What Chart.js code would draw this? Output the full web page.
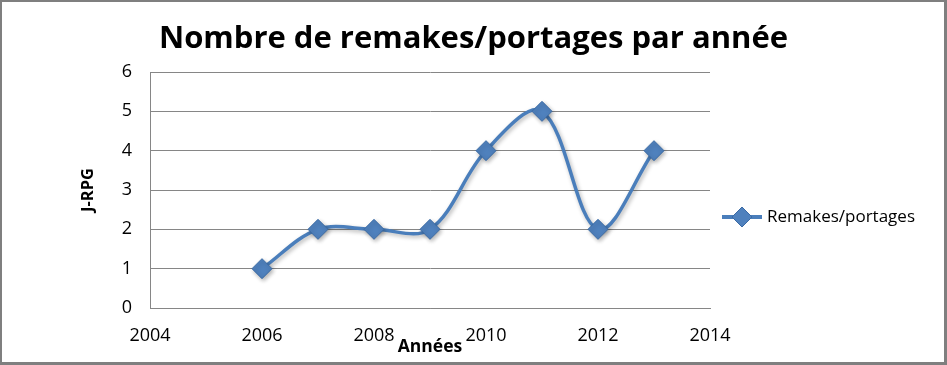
<!DOCTYPE html>
<html>
<head>
<meta charset="utf-8">
<script src="https://cdn.jsdelivr.net/npm/chart.js@4"></script>
<style>
  body { margin: 0; background: #fff; }
  .wrap { position: relative; width: 947px; height: 365px; }
  .frame {
    position: absolute; left: 0; top: 0; right: 0; bottom: 0;
    border-top: 2px solid #7f7f7f; border-left: 2px solid #7f7f7f;
    border-right: 3px solid #7f7f7f; border-bottom: 3px solid #7f7f7f;
    pointer-events: none;
  }
</style>
</head>
<body>
<div class="wrap">
  <canvas id="chart" width="947" height="365"></canvas>
  <div class="frame"></div>
</div>
<script>
const years = [2006, 2007, 2008, 2009, 2010, 2011, 2012, 2013];
const remakes = [1, 2, 2, 2, 4, 5, 2, 4];
const xTicks = [2004, 2006, 2008, 2010, 2012, 2014];
const yTicks = [0, 1, 2, 3, 4, 5, 6];
const seriesLabel = 'Remakes/portages';

const lineColor = '#4a7ebb';
const markerFill = '#4f81bd';
const gridColor = '#868686';

// little drop shadow under the line and markers, like the Excel original
const shadowPlugin = {
  id: 'shadow',
  beforeDatasetsDraw(chart) {
    const ctx = chart.ctx;
    ctx.save();
    ctx.shadowColor = 'rgba(0,0,0,0.3)';
    ctx.shadowBlur = 4;
    ctx.shadowOffsetX = 1.5;
    ctx.shadowOffsetY = 2;
  },
  afterDatasetsDraw(chart) {
    chart.ctx.restore();
  }
};

// legend on the right: line + diamond + label
const sideLegend = {
  id: 'sideLegend',
  afterDraw(chart) {
    const ctx = chart.ctx;
    const ds = chart.data.datasets[0];
    const y = 217;
    ctx.save();
    ctx.strokeStyle = lineColor;
    ctx.lineWidth = 4;
    ctx.beginPath();
    ctx.moveTo(722, y);
    ctx.lineTo(762, y);
    ctx.stroke();
    ctx.fillStyle = markerFill;
    ctx.strokeStyle = '#3a6aa5';
    ctx.lineWidth = 1;
    Chart.helpers.drawPoint(ctx, { pointStyle: 'rectRot', radius: 10, borderWidth: 1, rotation: 0 }, 742, y);
    ctx.fillStyle = '#000';
    ctx.font = '17px "Open Sans"';
    ctx.textAlign = 'left';
    ctx.textBaseline = 'middle';
    ctx.fillText(ds.label, 767, y);
    ctx.restore();
  }
};

new Chart(document.getElementById('chart').getContext('2d'), {
  type: 'scatter',
  data: {
    datasets: [
      {
        label: seriesLabel,
        data: years.map((yr, i) => ({ x: yr, y: remakes[i] })),
        showLine: true,
        tension: 0.35,
        borderColor: lineColor,
        borderWidth: 3.5,
        pointStyle: 'rectRot',
        pointRadius: 10,
        pointHoverRadius: 10,
        pointBackgroundColor: markerFill,
        pointBorderColor: '#3a6aa5',
        pointBorderWidth: 1,
      },
    ],
  },
  options: {
    responsive: false,
    animation: false,
    layout: { padding: 0 },
    plugins: {
      legend: { display: false },
      tooltip: { enabled: false },
      title: {
        display: true,
        text: 'Nombre de remakes/portages par année',
        color: '#000',
        font: { family: '"Open Sans"', size: 31, weight: 'bold', lineHeight: 1.2 },
        padding: { top: 21, bottom: 13.8 },
      },
    },
    scales: {
      x: {
        type: 'linear',
        min: 2004,
        max: 2014,
        afterBuildTicks: (scale) => { scale.ticks = xTicks.map(v => ({ value: v })); },
        afterFit: (scale) => { scale.height = 57; },
        grid: { display: false, drawTicks: false },
        border: { display: true, color: gridColor, width: 1 },
        ticks: {
          padding: 17,
          color: '#000',
          font: { family: '"Open Sans"', size: 18 },
          callback: (v) => String(v),
        },
        title: {
          display: true,
          text: 'Années',
          color: '#000',
          font: { family: '"Open Sans"', size: 17.5, weight: 'bold', lineHeight: 1.2 },
          padding: { top: 0, bottom: 7 },
        },
      },
      y: {
        min: 0,
        max: 6,
        afterBuildTicks: (scale) => { scale.ticks = yTicks.map(v => ({ value: v })); },
        afterFit: (scale) => { scale.width = 150; },
        grid: { color: gridColor, lineWidth: 1, drawTicks: false },
        border: { display: true, color: gridColor, width: 1 },
        ticks: {
          padding: 18,
          color: '#000',
          font: { family: '"Open Sans"', size: 18 },
        },
        title: {
          display: true,
          text: 'J-RPG',
          color: '#000',
          font: { family: '"Open Sans"', size: 16.5, weight: 'bold', lineHeight: 1.2 },
          padding: { top: 78, bottom: 0 },
        },
      },
      // empty right-hand axis that reserves the room where the legend sits
      legendSpace: {
        position: 'right',
        min: 0,
        max: 6,
        afterFit: (scale) => { scale.width = 237; },
        grid: { display: false, drawTicks: false },
        border: { display: false },
        ticks: { display: false },
      },
    },
  },
  plugins: [shadowPlugin, sideLegend],
});
</script>
</body>
</html>
